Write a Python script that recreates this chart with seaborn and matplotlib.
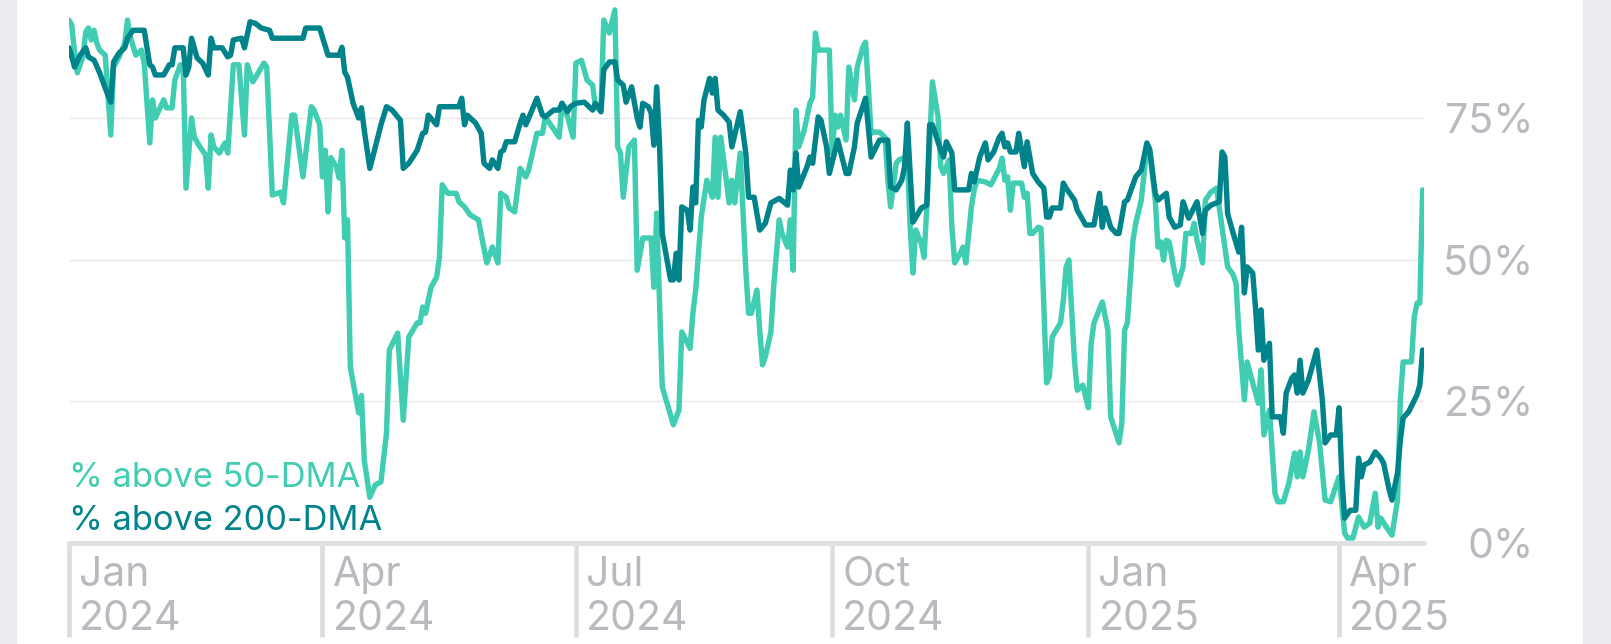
import matplotlib
matplotlib.use("Agg")
import matplotlib.pyplot as plt
from matplotlib.patches import Rectangle
from matplotlib.ticker import PercentFormatter
from matplotlib.transforms import ScaledTranslation
import matplotlib.dates as mdates
import pandas as pd
import seaborn as sns

# days since 2024-01-01 and share of stocks above the moving average (%)
day_50 = [0, 1, 2, 3, 5, 6, 7, 8, 9, 10, 11, 13, 15, 16, 18, 20, 21, 22, 24, 26, 27, 29, 30, 31, 34, 35, 37, 38,
          40, 41, 42, 44, 45, 47, 49, 50, 51, 52, 54, 56, 57, 59, 61, 63, 64, 66, 67, 70, 71, 73, 75, 76, 77, 80,
          81, 84, 87, 88, 90, 91, 92, 93, 94, 96, 97, 98, 99, 100, 101, 104, 105, 106, 108, 110, 112, 114, 115,
          118, 120, 122, 125, 126, 127, 128, 130, 132, 133, 134, 136, 139, 140, 142, 144, 147, 150, 152, 154,
          155, 157, 158, 160, 162, 164, 165, 168, 170, 171, 176, 177, 179, 181, 182, 184, 186, 188, 189, 191,
          192, 194, 196, 197, 198, 199, 201, 203, 204, 206, 209, 210, 211, 213, 217, 219, 220, 223, 224, 225,
          227, 229, 231, 232, 233, 234, 236, 237, 238, 239, 241, 243, 244, 245, 247, 248, 249, 250, 252, 253,
          255, 256, 258, 259, 260, 261, 262, 264, 266, 267, 268, 269, 273, 274, 275, 276, 277, 279, 280, 282,
          283, 285, 286, 288, 289, 291, 293, 294, 295, 297, 298, 300, 301, 302, 303, 304, 306, 307, 308, 310,
          312, 313, 314, 316, 317, 318, 320, 321, 322, 324, 325, 326, 329, 331, 334, 335, 336, 337, 338, 339,
          342, 343, 344, 345, 346, 348, 349, 351, 352, 353, 356, 357, 358, 359, 361, 362, 364, 366, 367, 368,
          371, 373, 374, 377, 378, 379, 380, 382, 383, 385, 387, 388, 390, 391, 392, 393, 394, 395, 397, 398,
          400, 401, 403, 404, 405, 407, 408, 410, 412, 416, 418, 419, 420, 422, 423, 425, 427, 428, 429, 431,
          433, 434, 436, 438, 440, 441, 442, 443, 445, 447, 449, 451, 453, 455, 456, 458, 459, 461, 462, 463,
          465, 467, 469, 470, 471, 473, 475, 477, 478, 479, 482, 483, 484, 485, 486]
pct_50 = [92.3, 91.4, 86.5, 83, 85.8, 90.2, 90.9, 88.8, 90.5, 88.2, 87, 86.1, 72, 84, 85.8, 88.2, 92.3, 89.3, 86.1,
          87, 84.7, 70.6, 78.2, 75, 78.2, 76.8, 76.8, 81.7, 84.4, 84.4, 62.6, 75, 71.6, 69.9, 68.5, 62.6, 72,
          69.9, 68.8, 70.6, 68.8, 84.4, 84.4, 72, 84.4, 81.4, 82.2, 84.7, 84, 61.4, 61.7, 61.9, 60, 75.5, 75.5,
          64.6, 77, 76.4, 73.8, 64.6, 69.3, 58.4, 68, 66.4, 64.4, 69.3, 53.8, 57, 31, 22.9, 26, 14.6, 8, 10.2,
          10.7, 19.3, 34, 37, 21.6, 36.3, 38.8, 38.8, 41.6, 40.5, 45.1, 46.9, 50.4, 63.2, 61.7, 61.7, 60.2,
          59.3, 57.9, 57, 49.4, 52.2, 49.4, 61.7, 61, 59.1, 58.4, 66.1, 64.6, 65.8, 72.3, 72.3, 75.2, 71.6,
          77.6, 75.2, 71.6, 84.7, 85.2, 81.7, 80.8, 77, 76.4, 92.3, 90, 94.1, 69.9, 68.8, 61, 69.9, 71.1, 48.1,
          53.8, 53.8, 45.1, 58.2, 27.5, 20.8, 23.4, 37.2, 34.3, 40.5, 44.6, 57.5, 64, 61, 71.6, 61, 71.6, 64,
          60, 64, 60, 68.8, 48.1, 40.5, 40.5, 44.6, 37.5, 31.4, 32.8, 37.2, 45.1, 57, 54.6, 52.2, 57, 48.1,
          76.4, 69.9, 72.9, 77.6, 78.7, 90, 87, 87, 68.8, 75.5, 73.4, 75.5, 71.1, 84, 78.2, 84, 87.5, 88.4,
          72.3, 72.5, 72.5, 71.6, 64, 59.3, 67, 67.6, 68, 68.1, 55.7, 47.6, 55.2, 52.9, 50.4, 59.3, 81.4, 75.2,
          66.4, 65.2, 67.6, 55.7, 49.4, 51.1, 52.2, 49.4, 59.3, 62.3, 64, 63.7, 63.2, 66.1, 67.9, 64, 64.6,
          58.7, 63.5, 63.5, 61, 61.7, 54.6, 54.6, 55.7, 55.5, 28.2, 29.3, 36.3, 38.8, 42.8, 48.7, 49.9, 32.2,
          26.9, 27.8, 23.8, 35.2, 38.8, 42.5, 37.5, 22.2, 17.6, 21.1, 37.5, 38.8, 53.4, 56.4, 60.5, 69.9, 69.3,
          60.5, 52.2, 53.1, 49.9, 53.4, 53.1, 47.6, 45.5, 48.7, 54.6, 54.6, 56.4, 53.4, 49.4, 60.5, 61.9, 62.6,
          48.7, 47.3, 45.8, 37.5, 25.2, 31.9, 28.2, 24.6, 30.5, 19, 23.4, 8.7, 7.2, 7.2, 10.5, 15.8, 11.6, 16,
          11.6, 16.3, 23.1, 17.6, 7.5, 7.2, 10.2, 11.6, 1.7, 0.8, 0.8, 2.7, 4.5, 2.7, 3.4, 8.7, 2.7, 4.3, 2.7,
          1.3, 7.5, 25.2, 31.9, 31.9, 39.9, 42.3, 42.3, 62.3]

day_200 = [0, 1, 2, 4, 6, 7, 9, 11, 13, 15, 16, 18, 20, 21, 23, 27, 29, 30, 31, 34, 36, 37, 38, 41, 42, 43, 44,
           46, 48, 50, 51, 52, 55, 57, 58, 59, 62, 63, 65, 67, 69, 72, 73, 84, 85, 90, 93, 97, 98, 99, 100, 102,
           104, 105, 106, 108, 110, 112, 114, 116, 119, 120, 122, 125, 127, 128, 129, 132, 133, 140, 141, 142,
           143, 146, 148, 149, 151, 152, 154, 155, 156, 157, 160, 162, 163, 164, 166, 168, 170, 171, 174, 176,
           177, 179, 180, 182, 185, 188, 189, 191, 192, 194, 196, 197, 199, 200, 202, 204, 205, 206, 208, 209,
           210, 211, 212, 213, 216, 217, 218, 219, 220, 222, 223, 224, 225, 226, 227, 228, 230, 231, 232, 233,
           235, 237, 238, 241, 243, 244, 246, 248, 250, 252, 255, 258, 259, 260, 261, 262, 265, 266, 267, 269,
           270, 272, 273, 276, 279, 280, 282, 283, 286, 288, 291, 294, 295, 297, 299, 300, 301, 302, 303, 306,
           308, 309, 310, 313, 314, 315, 317, 318, 323, 324, 325, 327, 329, 330, 332, 334, 335, 336, 337, 338,
           340, 341, 343, 344, 346, 348, 350, 351, 352, 353, 356, 357, 358, 361, 362, 364, 365, 368, 370, 371,
           372, 374, 376, 377, 379, 380, 382, 383, 385, 387, 388, 390, 391, 394, 395, 397, 399, 400, 402, 405,
           407, 408, 410, 413, 414, 415, 416, 418, 420, 421, 422, 423, 425, 426, 427, 428, 429, 431, 432, 435,
           436, 437, 439, 440, 441, 442, 443, 445, 448, 450, 451, 453, 455, 456, 457, 458, 460, 462, 463, 464,
           465, 467, 468, 469, 471, 472, 474, 475, 477, 478, 479, 481, 484, 485, 486]
pct_200 = [87.4, 85.8, 84, 86.1, 87.4, 85.8, 85.2, 83, 80.3, 77.8, 84.9, 86.5, 87.4, 89.1, 90.5, 90.5, 84.4, 84,
           82.6, 82.6, 84.4, 84.4, 87.4, 87.4, 82.6, 84, 89.1, 85.6, 84.7, 82.6, 89.1, 87.4, 87.4, 85.8, 86.1,
           88.8, 89.1, 87.4, 92, 91.7, 90.9, 90.5, 89.1, 89.1, 90.9, 90.9, 86.1, 86.1, 87.5, 83.1, 82.2, 77.6,
           75, 76.8, 72.9, 66.1, 69.9, 73.8, 77, 76.4, 74.6, 66.1, 67, 69.3, 72.3, 72.5, 75.5, 73.8, 77, 77,
           78.5, 73.8, 75.5, 74.1, 72.3, 67, 66.1, 67.6, 66.1, 69, 69.3, 70.8, 70.8, 74.1, 75.5, 73.8, 76.1,
           78.5, 75.5, 75.2, 76.4, 76.4, 77.6, 76.1, 77, 77.6, 77.8, 76.4, 77.6, 76.1, 83.5, 84.9, 84.9, 81.7,
           80.8, 77.8, 80.5, 75, 73.4, 77.6, 77, 75.9, 70.2, 80.5, 70.6, 54.6, 46.4, 46.4, 51.1, 46.4, 59.3,
           58.7, 55.2, 62.8, 60, 74.6, 73.4, 78.2, 82, 79.4, 82, 76.4, 75.5, 74.3, 69.9, 76.1, 68.8, 61, 61,
           55.2, 56.4, 60, 60.8, 59.6, 65.8, 62.3, 68.8, 62.8, 66.4, 68.1, 67, 75.2, 74.6, 69.9, 65.2, 71.1,
           65.2, 65.2, 69.9, 74.1, 78.5, 68.1, 71.1, 71.1, 62.8, 62.3, 64, 66.4, 74.1, 65.2, 56.6, 59.1, 59.6,
           73.8, 73.8, 69.3, 68.1, 70.8, 68.8, 62.3, 62.3, 65.2, 63.7, 68.1, 70.6, 67.6, 69, 71.6, 72.3, 69.9,
           70.6, 69, 69, 72.3, 66.4, 70.8, 65.2, 63.7, 62.6, 57.5, 57.5, 59.1, 59.1, 63.5, 62.6, 60.5, 58.7, 57,
           56.1, 56.1, 61.7, 55.7, 59.1, 55.7, 54.6, 54.6, 60.2, 60.5, 63.2, 64.6, 65.8, 70.6, 69.5, 61.7, 60.5,
           61.7, 57.5, 55.7, 56.1, 60.2, 57.3, 60.2, 54.6, 58.7, 59.6, 60.2, 69, 68.1, 58.1, 54.6, 51.3, 55.7,
           44.1, 48.7, 47.6, 41.5, 34, 41.1, 32.2, 35.2, 22.2, 22.2, 19.3, 26.4, 29, 29.6, 26.4, 32.2, 26.4,
           28.7, 34, 25.2, 17.6, 19, 19, 23.8, 11.6, 4.3, 5.7, 5.7, 14.9, 11.6, 13.7, 14.2, 15.1, 16, 14.9, 14,
           9.3, 7.5, 12.3, 18.1, 22, 23.1, 26.1, 27.8, 34]

series_names = ["% above 50-DMA", "% above 200-DMA"]
series_colors = ["#40cdb1", "#00838a"]
tick_dates = ["2024-01-01", "2024-04-01", "2024-07-01", "2024-10-01", "2025-01-01", "2025-04-01"]
tick_labels = ["Jan\n2024", "Apr\n2024", "Jul\n2024", "Oct\n2024", "Jan\n2025", "Apr\n2025"]
y_ticks = [0, 25, 50, 75]

start = pd.Timestamp("2024-01-01")
df = pd.concat([
    pd.DataFrame({"date": start + pd.to_timedelta(day_50, unit="D"), "pct": pct_50, "series": series_names[0]}),
    pd.DataFrame({"date": start + pd.to_timedelta(day_200, unit="D"), "pct": pct_200, "series": series_names[1]}),
], ignore_index=True)

sns.set_theme(style="white")
plt.rcParams["font.family"] = ["Inter", "DejaVu Sans"]

W, H = 1611, 644
fig = plt.figure(figsize=(W / 100, H / 100), dpi=100, facecolor="white")
# grey margins on both sides of the white card
fig.patches.append(Rectangle((0, 0), 16 / W, 1, transform=fig.transFigure, color="#ededf1", zorder=-1))
fig.patches.append(Rectangle((1583 / W, 0), 1 - 1583 / W, 1, transform=fig.transFigure, color="#ededf1", zorder=-1))

ax = fig.add_axes([69 / W, 101.5 / H, 1355 / W, 542.5 / H])
sns.lineplot(data=df, x="date", y="pct", hue="series", hue_order=series_names,
             palette=dict(zip(series_names, series_colors)), estimator=None, sort=False,
             linewidth=3.9, legend=False, ax=ax)
for ln in ax.get_lines():
    ln.set_solid_joinstyle("round")
    ln.set_solid_capstyle("round")

ax.set_xlim(start, start + pd.Timedelta(days=486.5))
ax.set_ylim(0, 95.85)
ax.set(xlabel="", ylabel="")
ax.set_facecolor("white")

ax.grid(axis="y", color="#e6e6e6", linewidth=0.9)
ax.grid(axis="x", visible=False)
ax.set_axisbelow(True)
sns.despine(ax=ax, left=True, right=True, top=True)
ax.spines["bottom"].set_color("#e1e1e5")
ax.spines["bottom"].set_linewidth(3.6)
ax.spines["bottom"].set_capstyle("round")

# y axis on the right, labels right-aligned
ax.yaxis.tick_right()
ax.set_yticks(y_ticks)
ax.yaxis.set_major_formatter(PercentFormatter(decimals=0))
ax.tick_params(axis="y", length=0, pad=79, labelsize=29.5, labelcolor="#b9b9c0")
for lab in ax.get_yticklabels():
    lab.set_ha("right")

# x ticks: long grey tick lines with the label just to their right
ax.set_xticks(mdates.date2num(pd.to_datetime(tick_dates)), tick_labels)
ax.tick_params(axis="x", bottom=True, length=68, width=3.3, color="#dcdce1", direction="out",
               pad=-58.5, labelsize=29.5, labelcolor="#b9b9c0")
shift = ScaledTranslation(10 / 100, 0, fig.dpi_scale_trans)
for lab in ax.get_xticklabels():
    lab.set_ha("left")
    lab.set_linespacing(1.22)
    lab.set_transform(lab.get_transform() + shift)

leg = ax.legend(ax.get_lines()[:2], series_names, loc="lower left", bbox_to_anchor=(0.0, 0.01),
                frameon=False, handlelength=0, handletextpad=0, labelcolor="linecolor",
                fontsize=24.8, labelspacing=0.33, borderpad=0, borderaxespad=0)
leg.get_texts()[1].set_bbox(dict(facecolor="white", alpha=0.7, edgecolor="none", pad=0))

fig.savefig("out.png", dpi=100, facecolor="white")
